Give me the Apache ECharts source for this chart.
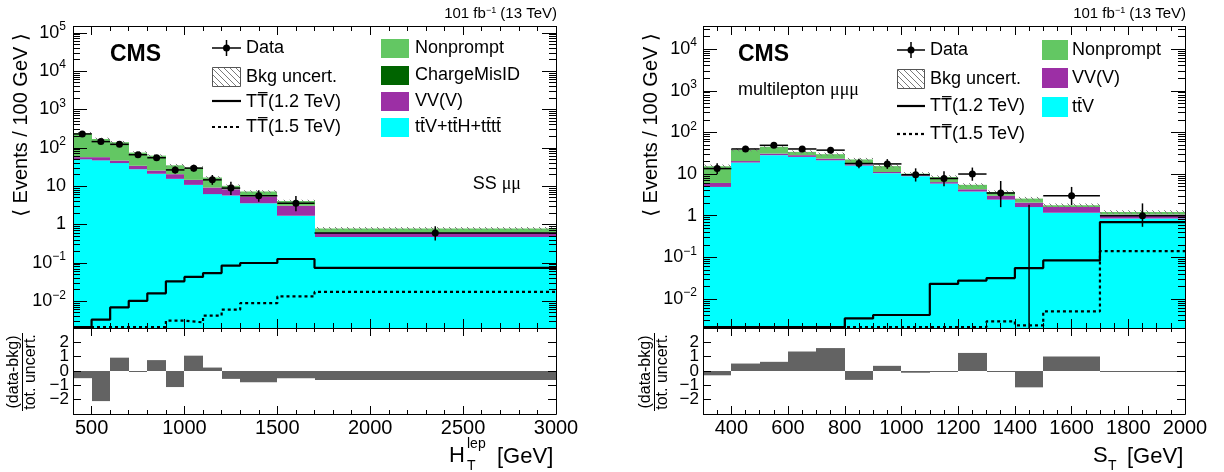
<!DOCTYPE html>
<html><head><meta charset="utf-8">
<script src="https://cdn.jsdelivr.net/npm/echarts@6/dist/echarts.min.js"></script>
<style>html,body{margin:0;padding:0;background:#fff}#c{width:1224px;height:472px}</style>
</head><body><div id="c"></div>
<script>
// ---------------- DATA ----------------
const YMIN_L = 0.002, YMAX_L = 1.5e5;
const YMIN_R = 0.002, YMAX_R = 3.6e4;

// Left: SS mu mu, H_T^lep
const edgesL = [400,500,600,700,800,900,1000,1100,1200,1300,1500,1700,3000];
const ttvL = [50,47,40,27.6,21,15.5,10.8,6.2,5.7,3.6,1.68,0.47];
const vvL = [7,10,6.5,6.4,4.5,5,3.8,3.0,2.6,1.8,1.4,0.15];
const misIdL = [0,0,0,0,0,0,0,0,0,0,0,0];
const nonpromptL = [183,113,93.5,41,37,14.5,15.9,7.6,1.9,1.8,1.02,0.17];
const bkgUncL = [20,14,11,6,5,3,2.5,1.4,0.9,0.6,0.35,0.07];
const dataL = [230,145,123,66,55,26.5,29.5,14.6,8.9,5.6,3.6,0.6];
const dataErrLoL = [15,12,11,8,7.4,5.1,5.4,3.8,3,1.7,1.4,0.22];
const dataErrHiL = [16,13,12,9,8.5,6.2,6.5,4.9,4.1,2.2,1.9,0.3];
const tt12L = [0.0021,0.0033,0.0069,0.0102,0.016,0.033,0.043,0.054,0.085,0.099,0.126,0.074];
const tt15L = [0.0021,0.0021,0.0021,0.0021,0.0021,0.0031,0.0028,0.0042,0.006,0.0089,0.0133,0.0174];
const pullL = [-0.5,-2.1,0.93,-0.07,0.76,-1.12,1.07,0.24,-0.55,-0.79,-0.5,-0.62];

// Right: multilepton mu mu mu, S_T
const edgesR = [300,400,500,600,700,800,900,1000,1100,1200,1300,1400,1500,1700,2000];
const ttvR = [4.9,18.9,28.4,25.8,21.4,16,10.5,8.9,5.9,3.8,2.43,1.61,1.18,0.85];
const vvR = [1.2,1.6,2.6,2.6,2.0,1.2,0.7,0.5,0.5,0.5,0.57,0.45,0.43,0.22];
const misIdR = [0,0,0,0,0,0,0,0,0,0,0,0,0,0];
const nonpromptR = [9.3,17.5,14,5.6,6.6,5.2,4.3,0.8,2.1,1.2,0.7,0.51,0.16,0.15];
const bkgUncR = [1.5,3,3.5,3,2.7,2,1.4,0.9,0.8,0.5,0.35,0.25,0.18,0.12];
const dataR = [13.5,40,49,40,37.5,17.9,17.5,9.6,7.8,10,3.5,0,3.0,1.0];
const dataErrLoR = [3.6,6.3,7,6.3,6.1,4.2,4.2,3.0,2.7,3.1,1.9,0,1.2,0.46];
const dataErrHiR = [4.7,7.4,8,7.4,7.2,5.3,5.3,4.1,3.8,4.3,3.3,1.84,1.9,0.97];
const tt12R = [0.0021,0.0021,0.0021,0.0021,0.0021,0.0034,0.0041,0.0041,0.023,0.0275,0.0316,0.055,0.084,0.70];
const tt15R = [0.0021,0.0021,0.0021,0.0021,0.0021,0.0021,0.0021,0.0021,0.0021,0.0021,0.0029,0.0023,0.005,0.14];
const pullR = [-0.3,0.52,0.64,1.36,1.6,-0.62,0.36,-0.12,-0.07,1.26,-0.07,-1.14,1.02,-0.07];

// ---------------- STYLE ----------------
const FONT = '"Liberation Sans", Arial, Helvetica, "DejaVu Sans", sans-serif';
const C_TTV = '#00ffff', C_VV = '#9c2fa5', C_NP = '#63c763', C_MIS = '#006400', C_PULL = '#636363';

function hatchCanvas() {
  const c = document.createElement('canvas'); c.width = 6; c.height = 6;
  const g = c.getContext('2d'); g.strokeStyle = '#7a7a7a'; g.lineWidth = 1;
  g.beginPath(); g.moveTo(-1,-1); g.lineTo(7,7); g.moveTo(-1,5); g.lineTo(1,7); g.moveTo(5,-1); g.lineTo(7,1); g.stroke();
  return c;
}
const HATCH = {image: hatchCanvas(), repeat: 'repeat'};

function cum(arrs) { return arrs[0].map((_, i) => arrs.reduce((s, a) => s + a[i], 0)); }
function binRects(edges, lo, hi) { return edges.slice(0, -1).map((e, i) => [e, edges[i + 1], lo[i], hi[i]]); }

function rectSeries(xi, yi, data, style, z, snap) {
  return {
    type: 'custom', xAxisIndex: xi, yAxisIndex: yi, clip: true, silent: true, z: z || 2,
    encode: {x: [0, 1], y: [2, 3]},
    renderItem: function (params, api) {
      const lo = api.value(2), hi = api.value(3);
      if (!(hi > lo)) return null;
      const p0 = api.coord([api.value(0), hi]);
      const p1 = api.coord([api.value(1), lo]);
      let x0 = p0[0], x1 = p1[0], y0 = p0[1], y1 = p1[1];
      if (snap) { x0 = Math.round(x0); x1 = Math.round(x1); }
      return {type: 'rect', shape: {x: x0, y: y0, width: x1 - x0, height: y1 - y0}, style: style};
    },
    data: data
  };
}
function stepSeries(xi, yi, edges, vals, dash) {
  const pts = edges.map((e, i) => [e, vals[Math.min(i, vals.length - 1)]]);
  return {type: 'line', xAxisIndex: xi, yAxisIndex: yi, step: 'end', symbol: 'none', silent: true, z: 5,
    lineStyle: {color: '#000', width: 2.2, type: dash ? [3, 3] : 'solid'}, data: pts};
}
function dataSeries(xi, yi, edges, vals, lo, hi, ymin) {
  const items = vals.map((v, i) => [(edges[i] + edges[i + 1]) / 2, v, edges[i], edges[i + 1], lo[i], hi[i], v + hi[i]]);
  return {
    type: 'custom', xAxisIndex: xi, yAxisIndex: yi, clip: true, silent: true, z: 6,
    encode: {x: [2, 3], y: 6},
    renderItem: function (params, api) {
      const xc = api.value(0), v = api.value(1), x0 = api.value(2), x1 = api.value(3);
      const el = api.value(4), eh = api.value(5);
      const st = {stroke: '#000', lineWidth: 1.5};
      const ch = [];
      const pHi = api.coord([xc, v + eh]);
      if (v > 0) {
        const p = api.coord([xc, v]);
        const pLo = api.coord([xc, Math.max(v - el, ymin)]);
        const pa = api.coord([x0, v]), pb = api.coord([x1, v]);
        ch.push({type: 'line', shape: {x1: pa[0], y1: p[1], x2: pb[0], y2: p[1]}, style: st});
        ch.push({type: 'line', shape: {x1: p[0], y1: pLo[1], x2: p[0], y2: pHi[1]}, style: st});
        ch.push({type: 'circle', shape: {cx: p[0], cy: p[1], r: 3.5}, style: {fill: '#000'}});
      } else {
        const pLo = api.coord([xc, ymin]);
        ch.push({type: 'line', shape: {x1: pLo[0], y1: pLo[1], x2: pLo[0], y2: pHi[1]}, style: st});
      }
      return {type: 'group', children: ch};
    },
    data: items
  };
}

function panelSeries(ax, edges, ttv, vv, mis, np, unc, data, elo, ehi, s12, s15, pull, ymin) {
  const base = ttv.map(() => ymin);
  const c1 = ttv, c2 = cum([ttv, vv]), c3 = cum([ttv, vv, mis]), c4 = cum([ttv, vv, mis, np]);
  const uLo = c4.map((v, i) => v - unc[i]), uHi = c4.map((v, i) => v + unc[i]);
  const pLo = pull.map(v => Math.min(0, v)), pHi = pull.map(v => Math.max(0, v));
  return [
    rectSeries(ax, ax, binRects(edges, base, c1), {fill: C_TTV}, 2, true),
    rectSeries(ax, ax, binRects(edges, c1, c2), {fill: C_VV}, 2, true),
    rectSeries(ax, ax, binRects(edges, c2, c3), {fill: C_MIS}, 2, true),
    rectSeries(ax, ax, binRects(edges, c3, c4), {fill: C_NP}, 2, true),
    rectSeries(ax, ax, binRects(edges, uLo, uHi), {fill: HATCH}, 3, true),
    stepSeries(ax, ax, edges, s12, false),
    stepSeries(ax, ax, edges, s15, true),
    dataSeries(ax, ax, edges, data, elo, ehi, ymin),
    rectSeries(ax + 2, ax + 2, binRects(edges, pLo, pHi), {fill: C_PULL}, 2, true)
  ];
}

// ---------------- AXES ----------------
const tickStyle = {color: '#000', width: 1};
function xAxisDef(grid, min, max, split, pos, labels, majLen, minLen, minSplit) {
  return {type: 'value', gridIndex: grid, min: min, max: max, splitNumber: split, position: pos, z: 10,
    axisLine: {show: false, onZero: false}, splitLine: {show: false},
    axisTick: {show: true, inside: true, length: majLen, lineStyle: tickStyle},
    minorTick: {show: true, splitNumber: minSplit, length: minLen, lineStyle: tickStyle},
    axisLabel: {show: labels, showMinLabel: false, fontSize: 20, fontFamily: FONT, color: '#000', margin: 4,
      formatter: v => String(v)}};
}
function logLabel(v) {
  const lg = Math.log10(v), e = Math.round(lg);
  if (Math.abs(lg - e) > 1e-6) return '';
  if (e === 0) return '{b|1}';
  if (e === 1) return '{b|10}';
  return '{b|10}{s|' + (e < 0 ? '\u2212' + (-e) : e) + '}';
}
function yLogDef(grid, min, max, pos, labels, margin) {
  return {type: 'log', logBase: 10, gridIndex: grid, min: min, max: max, position: pos, z: 10,
    axisLine: {show: false, onZero: false}, splitLine: {show: false},
    axisTick: {show: true, inside: true, length: 14, lineStyle: tickStyle},
    minorTick: {show: true, splitNumber: 9, length: 7, lineStyle: tickStyle},
    axisLabel: {show: labels, formatter: logLabel, margin: margin, showMinLabel: false, showMaxLabel: false,
      rich: {b: {fontSize: 18, fontFamily: FONT, color: '#000', lineHeight: 24},
             s: {fontSize: 12, fontFamily: FONT, color: '#000', lineHeight: 12, verticalAlign: 'top'}}}};
}
function yPullDef(grid, pos, labels) {
  return {type: 'value', gridIndex: grid, min: -3, max: 3, interval: 1, position: pos, z: 10,
    axisLine: {show: false, onZero: false}, splitLine: {show: false},
    axisTick: {show: true, inside: true, length: 8, lineStyle: tickStyle},
    axisLabel: {show: labels, margin: 4, fontSize: 17, fontFamily: FONT, color: '#000',
      formatter: v => (Math.abs(v) >= 3 ? '' : (v < 0 ? '\u2212' + (-v) : '' + v))}};
}

// ---------------- TEXT / LEGEND HELPERS ----------------
const mctx = document.createElement('canvas').getContext('2d');
function tw(s, size, bold) { mctx.font = (bold ? 'bold ' : '') + size + 'px ' + FONT; return mctx.measureText(s).width; }
function T(x, y, s, size, extra) {
  return Object.assign({type: 'text', x: x, y: y, z: 50, silent: true,
    style: {text: s, fontSize: size, fontFamily: FONT, fill: '#000', align: 'left', verticalAlign: 'middle'}}, extra || {});
}
function overlined(x, y, s, size, idxs) {
  const els = [T(x, y, s, size)];
  idxs.forEach(i => {
    const a = x + tw(s.slice(0, i), size), b = x + tw(s.slice(0, i + 1), size);
    els.push({type: 'line', z: 50, silent: true, shape: {x1: a + 1, y1: y - size * 0.52, x2: b - 0.5, y2: y - size * 0.52}, style: {stroke: '#000', lineWidth: 1.2}});
  });
  return els;
}
function box(x, y, w, h, fill, stroke) {
  return {type: 'rect', z: 50, silent: true, shape: {x: x, y: y, width: w, height: h}, style: {fill: fill, stroke: stroke || null, lineWidth: 1}};
}
function hline(x1, x2, y, dash) {
  return {type: 'line', z: 50, silent: true, shape: {x1: x1, y1: y, x2: x2, y2: y}, style: {stroke: '#000', lineWidth: 2.2, lineDash: dash ? [3, 3] : null}};
}
function dataSym(x1, x2, y) {
  const xc = (x1 + x2) / 2;
  return [
    {type: 'line', z: 50, silent: true, shape: {x1: x1, y1: y, x2: x2, y2: y}, style: {stroke: '#000', lineWidth: 1.5}},
    {type: 'line', z: 50, silent: true, shape: {x1: xc, y1: y - 8, x2: xc, y2: y + 8}, style: {stroke: '#000', lineWidth: 1.5}},
    {type: 'circle', z: 50, silent: true, shape: {cx: xc, cy: y, r: 3.5}, style: {fill: '#000'}}
  ];
}
function frame(x, y, w, h) {
  return {type: 'rect', z: 60, silent: true, shape: {x: x + 0.5, y: y + 0.5, width: w, height: h}, style: {fill: null, stroke: '#000', lineWidth: 1}};
}
function rotText(x, y, s, size) {
  return {type: 'text', x: x, y: y, rotation: Math.PI / 2, z: 50, silent: true,
    style: {text: s, fontSize: size, fontFamily: FONT, fill: '#000', align: 'center', verticalAlign: 'middle'}};
}
const lumiRich = {s: {fontSize: 9, fontFamily: FONT, fill: '#000', verticalAlign: 'top', lineHeight: 10}};
function lumi(xr, y) {
  return {type: 'text', x: xr, y: y, z: 50, silent: true,
    style: {text: '101 fb{s|\u22121} (13 TeV)', fontSize: 15, fontFamily: FONT, fill: '#000', align: 'right', verticalAlign: 'middle', rich: lumiRich}};
}
function bold(x, y, s, size) {
  return {type: 'text', x: x, y: y, z: 50, silent: true,
    style: {text: s, fontSize: size, fontWeight: 'bold', fontFamily: FONT, fill: '#000', align: 'left', verticalAlign: 'middle'}};
}
const serifRich = {m: {fontSize: 18, fontFamily: '"Liberation Serif", serif', fill: '#000'}};

const graphics = [
  frame(73, 26, 483, 302), frame(73, 328, 483, 86),
  frame(703, 26, 482, 302), frame(703, 328, 482, 86),
  // left texts
  bold(110, 55, 'CMS', 23),
  lumi(557, 14),
  {type: 'text', x: 521, y: 184, z: 50, silent: true, style: {text: 'SS {m|\u03bc\u03bc}', fontSize: 18, fontFamily: FONT, fill: '#000', align: 'right', verticalAlign: 'middle', rich: serifRich}},
  ...dataSym(212, 241, 48), T(246, 48, 'Data', 18),
  box(212.5, 67.5, 28, 19, {image: hatchCanvas(), repeat: 'repeat'}, '#555'), T(246, 77, 'Bkg uncert.', 18),
  hline(212, 241, 101, false), ...overlined(246, 102, 'TT(1.2 TeV)', 18, [1]),
  hline(212, 241, 127, true), ...overlined(246, 127, 'TT(1.5 TeV)', 18, [1]),
  box(381, 39, 28, 19, C_NP), T(415, 48, 'Nonprompt', 18),
  box(381, 66, 28, 19, C_MIS), T(415, 75, 'ChargeMisID', 18),
  box(381, 92, 28, 19, C_VV), T(415, 101, 'VV(V)', 18),
  box(381, 118, 28, 19, C_TTV), ...overlined(415, 127, 'ttV+ttH+tttt', 18, [1, 5, 9, 11]),
  // left axis titles
  rotText(21, 125, '\u27e8 Events / 100 GeV \u27e9', 20),
  rotText(14, 372, '(data-bkg)', 16), rotText(31, 372, 'tot. uncert.', 16),
  {type: 'line', z: 50, silent: true, shape: {x1: 22.5, y1: 333, x2: 22.5, y2: 411}, style: {stroke: '#000', lineWidth: 1}},
  T(449, 456, 'H', 22), T(467, 444, 'lep', 14), T(467, 466, 'T', 14), T(497, 457, '[GeV]', 22),
  // right texts
  bold(738, 55, 'CMS', 23),
  {type: 'text', x: 738, y: 90, z: 50, silent: true, style: {text: 'multilepton {m|\u03bc\u03bc\u03bc}', fontSize: 18, fontFamily: FONT, fill: '#000', align: 'left', verticalAlign: 'middle', rich: serifRich}},
  lumi(1186, 14),
  ...dataSym(897, 925, 50), T(930, 50, 'Data', 18),
  box(897.5, 69.5, 27, 19, {image: hatchCanvas(), repeat: 'repeat'}, '#555'), T(930, 79, 'Bkg uncert.', 18),
  hline(897, 925, 106, false), ...overlined(930, 106, 'TT(1.2 TeV)', 18, [1]),
  hline(897, 925, 134, true), ...overlined(930, 134, 'TT(1.5 TeV)', 18, [1]),
  box(1042, 40, 26, 20, C_NP), T(1072, 50, 'Nonprompt', 18),
  box(1042, 68, 26, 20, C_VV), T(1072, 78, 'VV(V)', 18),
  box(1042, 97, 26, 20, C_TTV), ...overlined(1072, 107, 'ttV', 18, [1]),
  rotText(651, 125, '\u27e8 Events / 100 GeV \u27e9', 20),
  rotText(646, 372, '(data-bkg)', 16), rotText(663, 372, 'tot. uncert.', 16),
  {type: 'line', z: 50, silent: true, shape: {x1: 654.5, y1: 333, x2: 654.5, y2: 411}, style: {stroke: '#000', lineWidth: 1}},
  T(1093, 456, 'S', 22), T(1108, 466, 'T', 14), T(1127, 457, '[GeV]', 22)
];

const option = {
  animation: false,
  backgroundColor: '#fff',
  grid: [
    {left: 73, top: 26, width: 483, height: 302},
    {left: 73, top: 328, width: 483, height: 86},
    {left: 703, top: 26, width: 482, height: 302},
    {left: 703, top: 328, width: 482, height: 86}
  ],
  xAxis: [
    xAxisDef(0, 400, 3000, 5, 'bottom', false, 9, 5, 5),
    xAxisDef(0, 400, 3000, 5, 'top', false, 9, 5, 5),
    xAxisDef(1, 400, 3000, 5, 'bottom', true, 8, 4, 5),
    xAxisDef(1, 400, 3000, 5, 'top', false, 8, 4, 5),
    xAxisDef(2, 300, 2000, 8, 'bottom', false, 9, 5, 4),
    xAxisDef(2, 300, 2000, 8, 'top', false, 9, 5, 4),
    xAxisDef(3, 300, 2000, 8, 'bottom', true, 8, 4, 4),
    xAxisDef(3, 300, 2000, 8, 'top', false, 8, 4, 4)
  ],
  yAxis: [
    yLogDef(0, YMIN_L, YMAX_L, 'left', true, 7),
    yLogDef(0, YMIN_L, YMAX_L, 'right', false, 7),
    yPullDef(1, 'left', true),
    yPullDef(1, 'right', false),
    yLogDef(2, YMIN_R, YMAX_R, 'left', true, 6),
    yLogDef(2, YMIN_R, YMAX_R, 'right', false, 6),
    yPullDef(3, 'left', true),
    yPullDef(3, 'right', false)
  ],
  series: [
    ...panelSeries(0, edgesL, ttvL, vvL, misIdL, nonpromptL, bkgUncL, dataL, dataErrLoL, dataErrHiL, tt12L, tt15L, pullL, YMIN_L),
    ...panelSeries(4, edgesR, ttvR, vvR, misIdR, nonpromptR, bkgUncR, dataR, dataErrLoR, dataErrHiR, tt12R, tt15R, pullR, YMIN_R)
  ],
  graphic: graphics
};
const chart = echarts.init(document.getElementById('c'), null, {renderer: 'canvas'});
chart.setOption(option);
</script>
</body></html>
